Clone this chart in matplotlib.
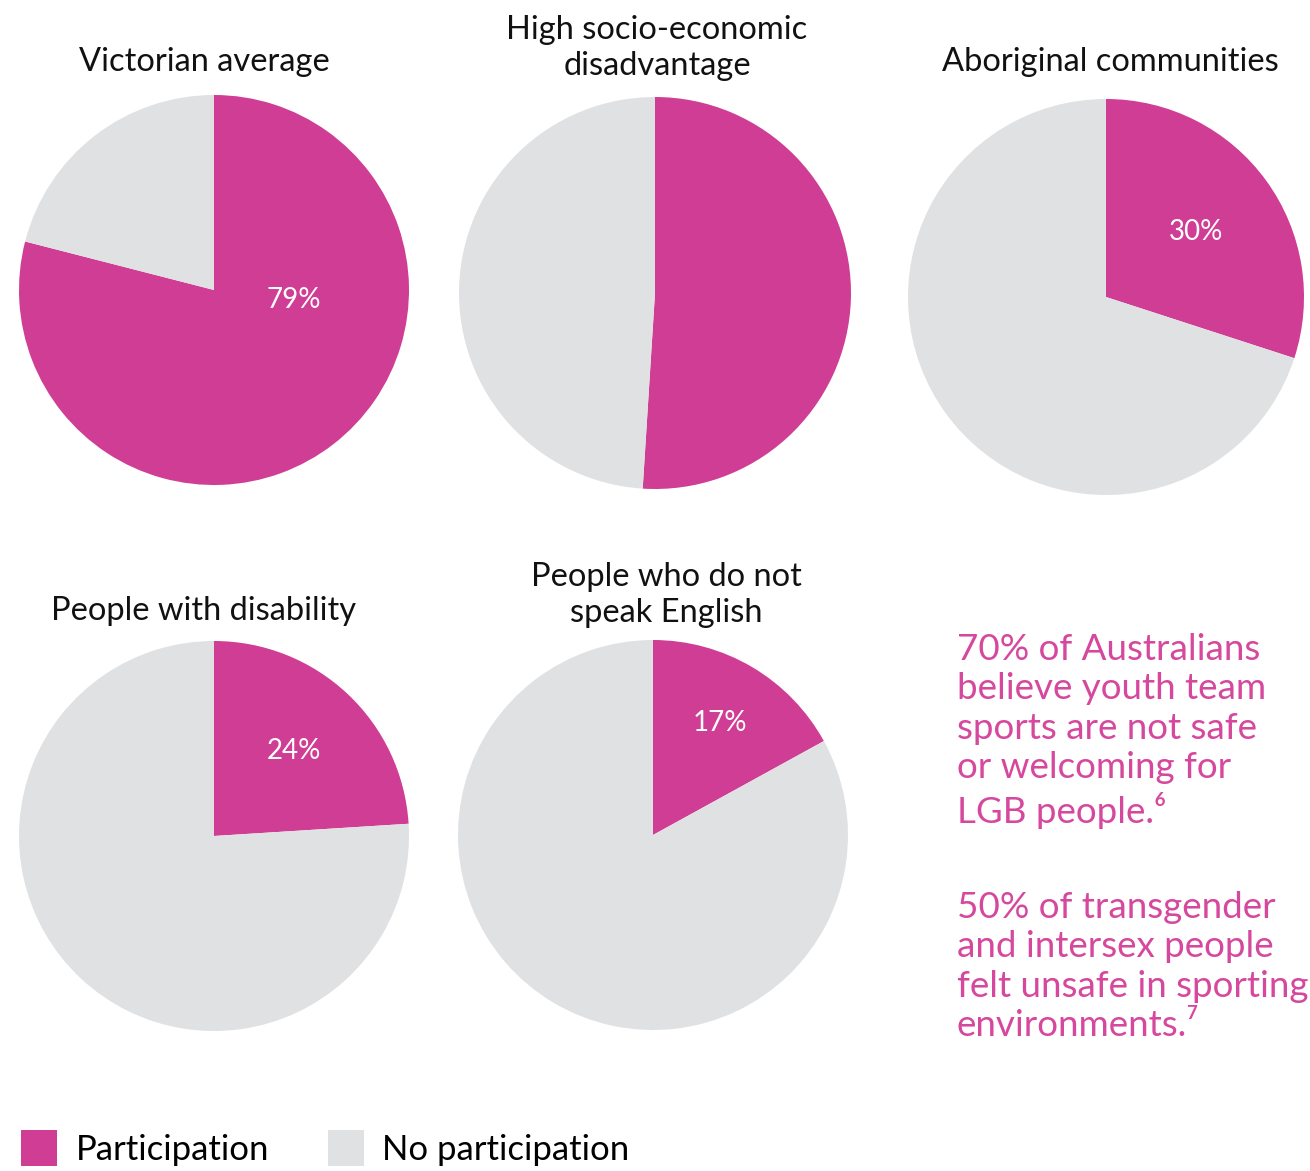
import matplotlib.pyplot as plt
from matplotlib.patches import Patch

# Data
groups = ['Victorian average', 'High socio-economic\ndisadvantage', 'Aboriginal communities',
          'People with disability', 'People who do not\nspeak English']
participation = [79, 51, 30, 24, 17]
show_label = [True, False, True, True, True]
series_names = ['Participation', 'No participation']
notes = ['70% of Australians\nbelieve youth team\nsports are not safe\nor welcoming for\nLGB people.\u2076',
         '50% of transgender\nand intersex people\nfelt unsafe in sporting\nenvironments.\u2077']

pink = '#D03D94'
grey = '#E0E1E3'
note_col = '#D6489E'
W, H = 1310, 1171

plt.rcParams['font.family'] = ['Lato', 'DejaVu Sans']

fig = plt.figure(figsize=(W / 100, H / 100), dpi=100)

# pie centres / radius in pixels (layout only)
layout = [(214, 290, 195), (655, 293, 196), (1106, 297, 198), (214, 836, 195), (653, 835, 195)]
title_pos = [(204, 62), (657, 48), (1110, 62), (204, 611), (666, 595)]
label_dist = [0.6, 0.6, 0.56, 0.6, 0.67]

for i, name in enumerate(groups):
    cx, cy, r = layout[i]
    ax = fig.add_axes([(cx - r) / W, (H - cy - r) / H, 2 * r / W, 2 * r / H])
    vals = [participation[i], 100 - participation[i]]
    res = ax.pie(vals, colors=[pink, grey], startangle=90, counterclock=False,
                 radius=1, autopct='%d%%' if show_label[i] else None,
                 pctdistance=label_dist[i],
                 textprops=dict(color='white', fontsize=20))
    if show_label[i]:
        autotexts = res[2]
        autotexts[1].set_visible(False)
        if i == 0:
            autotexts[0].set_position((0.41, -0.05))
    ax.set_xlim(-1, 1)
    ax.set_ylim(-1, 1)
    ax.set_aspect('equal')
    ax.axis('off')
    tx, ty = title_pos[i]
    fig.text(tx / W, 1 - ty / H, name, ha='center', va='center', fontsize=23.5,
             color='#111111', linespacing=1.25)

# side notes
fig.text(957 / W, 1 - 633 / H, notes[0], ha='left', va='top', fontsize=26.5,
         color=note_col, linespacing=1.24)
fig.text(957 / W, 1 - 891 / H, notes[1], ha='left', va='top', fontsize=26.5,
         color=note_col, linespacing=1.24)

handles = [Patch(facecolor=pink), Patch(facecolor=grey)]
fig.legend(handles, series_names, loc='center left', bbox_to_anchor=(7 / W, 1 - 1148 / H),
           ncol=2, frameon=False, fontsize=25, handlelength=1.05, handleheight=1.25,
           handletextpad=0.52, columnspacing=1.7, borderaxespad=0)

fig.savefig('out.png', dpi=100, facecolor='white')
